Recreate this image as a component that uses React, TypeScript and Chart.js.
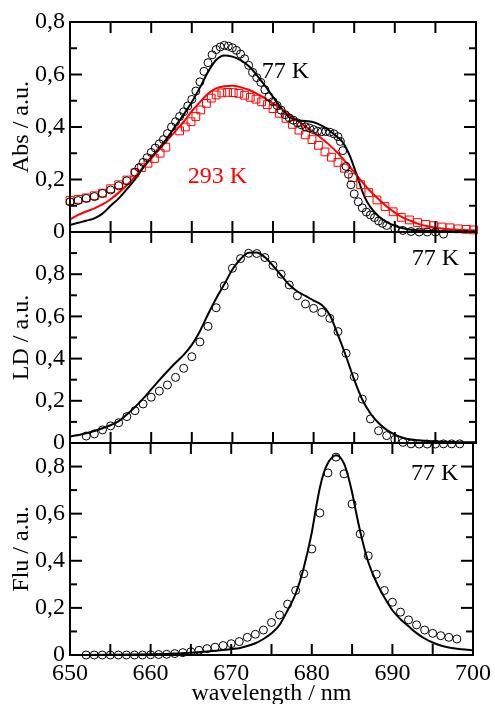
import React, { useEffect, useRef } from 'react';
import { Chart, registerables } from 'chart.js';

Chart.register(...registerables);

const FONT = "'Liberation Serif', 'Times New Roman', serif";

// ---- Panel 1: Absorption ----
const abs77PtsX = [650,651,652,653,654,655,656,657,658,658.5,659,659.5,660,660.5,661,661.5,662,662.5,663,663.5,664,664.5,665,665.5,666,666.5,667,667.5,668,668.5,669,669.5,670,670.5,671,671.5,672,672.5,673,673.5,674,674.5,675,675.5,676,676.5,677,677.5,678,678.5,679,679.5,680,680.5,681,681.5,682,682.5,683,683.3,683.6,684,684.3,684.6,685,685.5,686,686.5,687,687.5,688,688.5,689,690,691,692,693,694,695,696];
const abs77PtsY = [0.115,0.12,0.128,0.135,0.147,0.16,0.176,0.195,0.228,0.245,0.265,0.283,0.303,0.32,0.336,0.352,0.375,0.4,0.42,0.44,0.458,0.48,0.505,0.537,0.572,0.612,0.645,0.675,0.695,0.705,0.711,0.708,0.702,0.692,0.678,0.66,0.635,0.608,0.588,0.57,0.542,0.515,0.497,0.482,0.464,0.447,0.435,0.426,0.416,0.408,0.401,0.396,0.39,0.384,0.382,0.383,0.38,0.374,0.363,0.345,0.31,0.25,0.22,0.18,0.145,0.115,0.092,0.076,0.065,0.055,0.042,0.033,0.025,0.013,0.006,0.002,0,0,0,-0.008];
const abs77FitX = [650,651,652,653,654,655,656,657,658,659,660,661,662,663,664,665,666,667,668,669,670,671,672,673,674,675,676,677,678,679,680,681,682,683,683.5,684,684.5,685,685.5,686,686.5,687,688,689,690,691,692,694,697,700];
const abs77FitY = [0.027,0.035,0.043,0.052,0.07,0.1,0.128,0.163,0.2,0.245,0.285,0.32,0.36,0.404,0.447,0.495,0.55,0.61,0.655,0.672,0.668,0.655,0.632,0.598,0.558,0.515,0.473,0.437,0.425,0.423,0.418,0.405,0.385,0.36,0.345,0.32,0.287,0.245,0.2,0.155,0.12,0.095,0.06,0.038,0.024,0.014,0.009,0.005,0.003,0.002];
const abs293PtsX = [650,651,652,653,654,655,656,657,658,658.8,659.6,660.4,661.1,661.8,663.5,664.2,664.9,665.5,666.1,666.8,667.4,668,668.7,669.4,670.1,670.8,671.5,672.2,672.9,673.6,674.3,675,675.8,676.6,677.4,678.2,679,679.8,680.6,681.4,682.2,683,683.8,684.8,685.8,686.8,687.8,688.8,689.8,690.8,691.8,692.8,693.8,694.8,695.8,696.8,697.8,698.8,699.7];
const abs293PtsY = [0.12,0.124,0.13,0.138,0.148,0.165,0.18,0.198,0.225,0.245,0.262,0.28,0.3,0.323,0.385,0.4,0.42,0.44,0.465,0.49,0.51,0.522,0.53,0.532,0.531,0.528,0.521,0.513,0.506,0.496,0.485,0.47,0.452,0.433,0.41,0.388,0.37,0.352,0.33,0.305,0.285,0.265,0.243,0.207,0.18,0.15,0.122,0.097,0.077,0.056,0.046,0.036,0.029,0.024,0.019,0.016,0.012,0.01,0.008];
const abs293FitX = [650,651,652,653,654,655,656,657,658,659,660,661,662,663,664,665,666,667,668,669,670,671,672,673,674,675,676,677,678,679,680,681,682,683,684,685,686,687,688,689,690,691,692,693,694,695,696,697,698,699,700];
const abs293FitY = [0.048,0.065,0.078,0.09,0.105,0.125,0.15,0.178,0.21,0.245,0.28,0.315,0.35,0.385,0.42,0.46,0.495,0.527,0.547,0.555,0.557,0.552,0.542,0.527,0.51,0.49,0.47,0.447,0.425,0.402,0.38,0.356,0.33,0.3,0.265,0.228,0.19,0.155,0.125,0.097,0.074,0.055,0.042,0.03,0.022,0.016,0.012,0.01,0.008,0.007,0.006];

// ---- Panel 2: LD ----
const ldPtsX = [652,653,654,655,656,657,658,659,660,661,662,663,664,665,666,667,668,669,670,671,672,673,674,675,676,677,678,679,680,681,682,683,684,685,686,687,688,689,690,691,692,693,694,695,696,697,698];
const ldPtsY = [0.033,0.043,0.062,0.081,0.096,0.125,0.153,0.185,0.217,0.246,0.275,0.311,0.354,0.409,0.479,0.553,0.641,0.745,0.828,0.874,0.899,0.898,0.879,0.842,0.8,0.749,0.698,0.659,0.638,0.619,0.591,0.528,0.425,0.314,0.208,0.114,0.058,0.035,0.017,0.003,-0.004,-0.005,-0.005,-0.005,-0.004,-0.004,-0.004];
const ldFitX = [650,652,654,656,657,658,659,660,661,662,663,664,665,666,667,668,669,670,671,672,673,674,675,676,677,678,679,680,681,682,683,684,685,686,687,688,689,690,691,692,694,697,700];
const ldFitY = [0.03,0.046,0.07,0.104,0.135,0.17,0.21,0.254,0.298,0.34,0.38,0.418,0.465,0.53,0.61,0.685,0.752,0.822,0.872,0.902,0.903,0.88,0.84,0.795,0.75,0.718,0.697,0.675,0.654,0.607,0.512,0.41,0.3,0.205,0.14,0.095,0.062,0.04,0.025,0.017,0.01,0.005,0.003];

// ---- Panel 3: Fluorescence ----
const fluPtsX = [652,653,654,655,656,657,658,659,660,661,662,663,664,665,666,667,668,669,670,671,672,673,674,675,676,677,678,679,680,681,682,683,684,685,686,687,688,689,690,691,692,693,694,695,696,697,698];
const fluPtsY = [0,0,0,0,0,0,0,0,0.001,0.002,0.003,0.006,0.01,0.014,0.02,0.027,0.033,0.04,0.048,0.057,0.075,0.088,0.106,0.138,0.17,0.216,0.274,0.345,0.45,0.603,0.773,0.84,0.769,0.641,0.514,0.421,0.343,0.274,0.224,0.182,0.149,0.128,0.106,0.092,0.082,0.075,0.068];
const fluFitX = [650,655,660,663,665,667,669,670,671,672,673,674,675,676,677,678,679,680,680.5,681,681.5,682,682.5,683,683.5,684,684.5,685,685.5,686,686.5,687,688,689,690,691,692,693,694,695,696,697,698,699,700];
const fluFitY = [0,0.001,0.003,0.006,0.01,0.015,0.021,0.025,0.029,0.038,0.05,0.068,0.092,0.128,0.19,0.26,0.37,0.52,0.62,0.71,0.775,0.815,0.838,0.848,0.84,0.812,0.76,0.69,0.605,0.525,0.455,0.395,0.31,0.245,0.19,0.152,0.122,0.093,0.07,0.053,0.04,0.032,0.027,0.023,0.02];

const xTickLabels = [650, 660, 670, 680, 690, 700];
const xMinorTicks = [650, 655, 660, 665, 670, 675, 680, 685, 690, 695, 700];

const zip = (xs: number[], ys: number[]) => xs.map((x, i) => ({ x, y: ys[i] }));
const fmt = (v: number) => (Math.abs(v) < 1e-9 ? '0' : v.toFixed(1).replace('.', ','));

const circles = (xs: number[], ys: number[]) => ({
  data: zip(xs, ys),
  showLine: false,
  pointStyle: 'circle',
  pointRadius: 4,
  pointBorderWidth: 1,
  pointBorderColor: '#000',
  pointBackgroundColor: 'rgba(0,0,0,0)',
  clip: false,
});
const squares = (xs: number[], ys: number[]) => ({
  data: zip(xs, ys),
  showLine: false,
  pointStyle: 'rect',
  pointRadius: 5.5,
  pointBorderWidth: 1,
  pointBorderColor: '#ff0000',
  pointBackgroundColor: 'rgba(0,0,0,0)',
  clip: false,
});
const line = (xs: number[], ys: number[], color: string) => ({
  data: zip(xs, ys),
  showLine: true,
  pointRadius: 0,
  borderColor: color,
  borderWidth: 2,
  cubicInterpolationMode: 'monotone',
  fill: false,
});

function makeFramePlugin(ymax: number, labels: any[]) {
  return {
    id: 'frameTicks',
    afterDraw(chart: any) {
      const ctx = chart.ctx as CanvasRenderingContext2D;
      const a = chart.chartArea;
      const xs = chart.scales.x;
      const ys = chart.scales.y;
      ctx.save();
      ctx.strokeStyle = '#000';
      ctx.lineWidth = 2;
      ctx.strokeRect(a.left, a.top, a.right - a.left, a.bottom - a.top);
      const segs: number[][] = [];
      xMinorTicks.forEach((v) => {
        const px = xs.getPixelForValue(v);
        segs.push([px, a.top, px, a.top + 11]);
        segs.push([px, a.bottom, px, a.bottom - 11]);
      });
      const n = Math.round(ymax * 10);
      for (let i = 0; i <= n; i++) {
        const py = ys.getPixelForValue(i / 10);
        const len = i % 2 === 0 ? 12 : 7;
        segs.push([a.left, py, a.left + len, py]);
        segs.push([a.right, py, a.right - len, py]);
      }
      ctx.strokeStyle = '#000';
      ctx.lineWidth = 2;
      segs.forEach((s) => {
        ctx.beginPath();
        ctx.moveTo(s[0], s[1]);
        ctx.lineTo(s[2], s[3]);
        ctx.stroke();
      });
      ctx.font = `24px ${FONT}`;
      ctx.textAlign = 'left';
      ctx.textBaseline = 'alphabetic';
      labels.forEach((t) => {
        ctx.fillStyle = t.color;
        ctx.fillText(t.text, xs.getPixelForValue(t.x), ys.getPixelForValue(t.y));
      });
      ctx.restore();
    },
  };
}

function makeConfig(p: any) {
  return {
    type: 'scatter',
    data: { datasets: p.datasets },
    options: {
      responsive: false,
      animation: false,
      events: [],
      layout: { padding: { left: 0, right: 19, top: p.top, bottom: p.bottom } },
      plugins: {
        legend: { display: false },
        tooltip: { enabled: false },
      },
      scales: {
        x: {
          type: 'linear',
          min: 650,
          max: 700,
          display: p.showX,
          grid: { display: false, drawTicks: false },
          border: { display: false },
          ticks: {
            padding: 4,
            color: '#000',
            maxRotation: 0,
            autoSkip: false,
            font: { family: FONT, size: 24 },
          },
          afterBuildTicks: (s: any) => {
            s.ticks = xTickLabels.map((v) => ({ value: v }));
          },
          afterFit: (s: any) => {
            s.height = p.showX ? 49 : 0;
          },
          title: {
            display: p.showX,
            text: 'wavelength / nm',
            color: '#000',
            font: { family: FONT, size: 24, lineHeight: 0.85 },
            padding: 0,
          },
        },
        y: {
          type: 'linear',
          min: 0,
          max: p.ymax,
          grid: { display: false, drawTicks: false },
          border: { display: false },
          ticks: {
            padding: 5,
            color: '#000',
            font: { family: FONT, size: 24 },
            callback: (v: number) => fmt(v),
          },
          afterBuildTicks: (s: any) => {
            s.ticks = [0, 0.2, 0.4, 0.6, 0.8].map((v) => ({ value: v }));
          },
          afterFit: (s: any) => {
            s.width = 70;
          },
          title: {
            display: true,
            text: p.yTitle,
            color: '#000',
            font: { family: FONT, size: 24 },
            padding: { top: 7, bottom: 0 },
          },
        },
      },
    },
    plugins: [makeFramePlugin(p.ymax, p.labels)],
  };
}

export default function App() {
  const r1 = useRef<HTMLCanvasElement>(null);
  const r2 = useRef<HTMLCanvasElement>(null);
  const r3 = useRef<HTMLCanvasElement>(null);

  useEffect(() => {
    const c1 = new Chart(
      r1.current as HTMLCanvasElement,
      makeConfig({
        top: 22,
        bottom: 472,
        ymax: 0.8,
        showX: false,
        yTitle: 'Abs / a.u.',
        labels: [
          { text: '77 K', x: 673.6, y: 0.587, color: '#000' },
          { text: '293 K', x: 664.5, y: 0.187, color: '#ff0000' },
        ],
        datasets: [
          circles(abs77PtsX, abs77PtsY),
          squares(abs293PtsX, abs293PtsY),
          line(abs77FitX, abs77FitY, '#000'),
          line(abs293FitX, abs293FitY, '#ff0000'),
        ],
      }) as any
    );
    const c2 = new Chart(
      r2.current as HTMLCanvasElement,
      makeConfig({
        top: 232,
        bottom: 261,
        ymax: 1.0,
        showX: false,
        yTitle: 'LD / a.u.',
        labels: [{ text: '77 K', x: 692.1, y: 0.844, color: '#000' }],
        datasets: [circles(ldPtsX, ldPtsY), line(ldFitX, ldFitY, '#000')],
      }) as any
    );
    const c3 = new Chart(
      r3.current as HTMLCanvasElement,
      makeConfig({
        top: 443,
        bottom: 0,
        ymax: 0.9,
        showX: true,
        yTitle: 'Flu / a.u.',
        labels: [{ text: '77 K', x: 692.3, y: 0.745, color: '#000' }],
        datasets: [circles(fluPtsX, fluPtsY), line(fluFitX, fluFitY, '#000')],
      }) as any
    );
    return () => {
      c1.destroy();
      c2.destroy();
      c3.destroy();
    };
  }, []);

  const cs: React.CSSProperties = { position: 'absolute', left: 0, top: 0, display: 'block' };
  return (
    <div style={{ position: 'fixed', left: 0, top: 0, width: 495, height: 704, background: '#fff' }}>
      <canvas ref={r1} width={495} height={704} style={cs} />
      <canvas ref={r2} width={495} height={704} style={cs} />
      <canvas ref={r3} width={495} height={704} style={cs} />
    </div>
  );
}
